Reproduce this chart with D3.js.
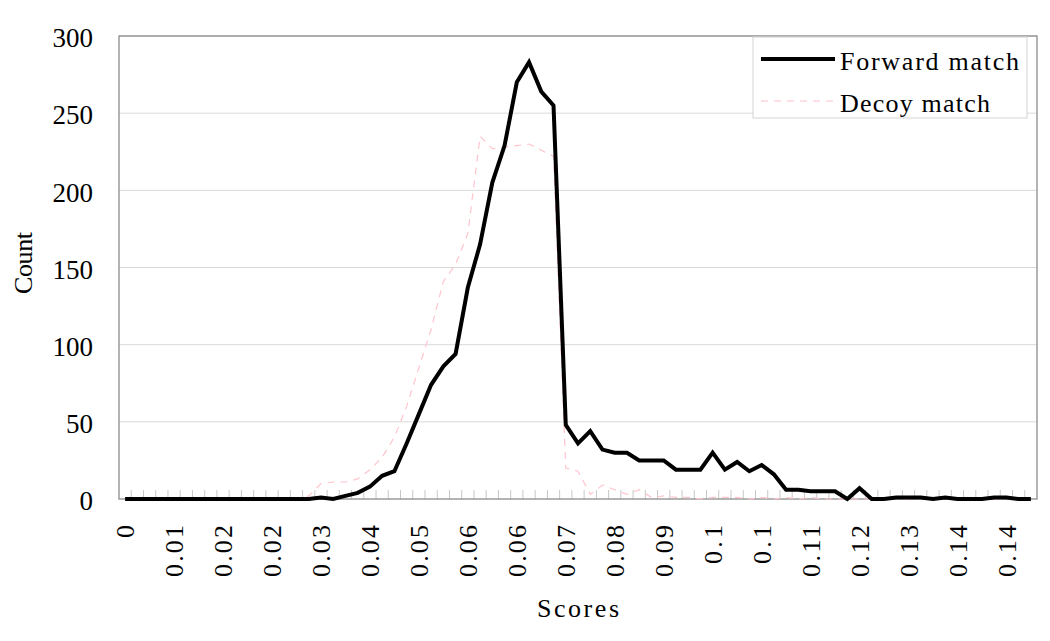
<!DOCTYPE html>
<html lang="en">
<head>
<meta charset="utf-8">
<title>Forward vs decoy match scores</title>
<script src="https://cdnjs.cloudflare.com/ajax/libs/d3/7.8.5/d3.min.js"></script>
<style>
body { margin: 0; background: #fff; }
text { font-family: "Liberation Serif", "DejaVu Serif", serif; fill: #000; }
.grid line { stroke: #d9d9d9; stroke-width: 1px; }
.frame { fill: none; stroke: #8c8c8c; stroke-width: 1.3px; }
.minor line { stroke: #c8c8c8; stroke-width: 1px; }
.forward { fill: none; stroke: #000; stroke-width: 4px; stroke-linejoin: miter; }
.decoy { fill: none; stroke: #ffc4cc; stroke-width: 1.2px; stroke-dasharray: 7,6; }
</style>
</head>
<body>
<script>

// score bins (x categories)
var scores = [
  0.000, 0.002, 0.004, 0.006, 0.008, 0.010, 0.012, 0.014, 0.016, 0.018,
  0.020, 0.022, 0.024, 0.026, 0.028, 0.030, 0.032, 0.034, 0.036, 0.038,
  0.040, 0.042, 0.044, 0.046, 0.048, 0.050, 0.052, 0.054, 0.056, 0.058,
  0.060, 0.062, 0.064, 0.066, 0.068, 0.070, 0.072, 0.074, 0.076, 0.078,
  0.080, 0.082, 0.084, 0.086, 0.088, 0.090, 0.092, 0.094, 0.096, 0.098,
  0.100, 0.102, 0.104, 0.106, 0.108, 0.110, 0.112, 0.114, 0.116, 0.118,
  0.120, 0.122, 0.124, 0.126, 0.128, 0.130, 0.132, 0.134, 0.136, 0.138,
  0.140, 0.142, 0.144, 0.146, 0.148
];

var forward = [
  0, 0, 0, 0, 0, 0, 0, 0, 0, 0,
  0, 0, 0, 0, 0, 0, 1, 0, 2, 4,
  8, 15, 18, 36, 55, 74, 86, 94, 137, 165,
  205, 229, 270, 283, 264, 255, 48, 36, 44, 32,
  30, 30, 25, 25, 25, 19, 19, 19, 30, 19,
  24, 18, 22, 16, 6, 6, 5, 5, 5, 0,
  7, 0, 0, 1, 1, 1, 0, 1, 0, 0,
  0, 1, 1, 0, 0
];

var decoy = [
  0, 0, 0, 0, 0, 0, 0, 0, 0, 0,
  0, 0, 0, 0, 0, 2, 10, 11, 11, 13,
  19, 27, 40, 60, 85, 110, 141, 152, 172, 235,
  227, 228, 229, 230, 226, 222, 20, 18, 3, 9,
  6, 3, 6, 1, 2, 1, 1, 0, 1, 1,
  1, 0, 1, 0, 1, 0, 1, 0, 0, 0,
  0, 0, 0, 0, 0, 0, 0, 0, 0, 0,
  0, 0, 0, 0, 0
];

// every 4th bin is labelled, rounded to 2 decimals as in the original sheet
var xTickLabels = ["0", "0.01", "0.02", "0.02", "0.03", "0.04", "0.05", "0.06", "0.06", "0.07",
  "0.08", "0.09", "0.1", "0.1", "0.11", "0.12", "0.13", "0.14", "0.14"];
var yTicks = [0, 50, 100, 150, 200, 250, 300];
var seriesNames = ["Forward match", "Decoy match"];

var W = 1050, H = 641;
var plot = { left: 119, right: 1037, top: 36, bottom: 499 };

var svg = d3.select("body").append("svg")
    .attr("width", W)
    .attr("height", H);

var x = d3.scaleBand()
    .domain(d3.range(scores.length))
    .range([plot.left, plot.right])
    .padding(0);

var y = d3.scaleLinear()
    .domain([0, 300])
    .range([plot.bottom, plot.top]);

var cx = function(i) { return x(i) + x.bandwidth() / 2; };

// gridlines
svg.append("g")
    .attr("class", "grid")
  .selectAll("line")
  .data(yTicks.slice(1))
  .enter().append("line")
    .attr("x1", plot.left)
    .attr("x2", plot.right)
    .attr("y1", function(d) { return y(d); })
    .attr("y2", function(d) { return y(d); });

// small inward ticks at each bin boundary
svg.append("g")
    .attr("class", "minor")
  .selectAll("line")
  .data(d3.range(1, scores.length))
  .enter().append("line")
    .attr("x1", function(i) { return x(i); })
    .attr("x2", function(i) { return x(i); })
    .attr("y1", plot.bottom)
    .attr("y2", plot.bottom - 9);

svg.append("rect")
    .attr("class", "frame")
    .attr("x", plot.left)
    .attr("y", plot.top)
    .attr("width", plot.right - plot.left)
    .attr("height", plot.bottom - plot.top);

// y axis labels
var yAxis = svg.append("g")
    .attr("transform", "translate(" + plot.left + ",0)")
    .call(d3.axisLeft(y).tickValues(yTicks).tickSize(0).tickPadding(26));
yAxis.select(".domain").remove();
yAxis.selectAll("text")
    .attr("dy", "0.4em")
    .style("font-size", "27px")
    .style("font-family", null);

// x axis labels (rotated)
var xAxis = svg.append("g")
    .attr("transform", "translate(0," + plot.bottom + ")")
    .call(d3.axisBottom(x)
      .tickValues(d3.range(0, scores.length, 4))
      .tickFormat(function(i) { return xTickLabels[i / 4]; })
      .tickSize(0));
xAxis.select(".domain").remove();
xAxis.selectAll("text")
    .attr("transform", "rotate(-90)")
    .attr("x", -26)
    .attr("y", 0)
    .attr("dy", "0.36em")
    .attr("textLength", function() { return this.textContent.length * 13; })
    .attr("lengthAdjust", "spacing")
    .style("text-anchor", "end")
    .style("font-size", "26px")
    .style("font-family", null);

// series
var line = d3.line()
    .x(function(d, i) { return cx(i); })
    .y(function(d) { return y(d); });

svg.append("path")
    .datum(decoy)
    .attr("class", "decoy")
    .attr("d", line);

svg.append("path")
    .datum(forward)
    .attr("class", "forward")
    .attr("d", line);

// axis titles
svg.append("text")
    .attr("x", (plot.left + plot.right) / 2)
    .attr("y", 617)
    .attr("textLength", 82)
    .attr("lengthAdjust", "spacing")
    .style("text-anchor", "middle")
    .style("font-size", "26px")
    .text("Scores");

svg.append("text")
    .attr("transform", "translate(23,263) rotate(-90)")
    .attr("dy", "0.35em")
    .attr("textLength", 62)
    .attr("lengthAdjust", "spacing")
    .style("text-anchor", "middle")
    .style("font-size", "26px")
    .text("Count");

// legend
var legend = svg.append("g")
    .attr("transform", "translate(753,37)");

legend.append("rect")
    .attr("width", 274)
    .attr("height", 81)
    .attr("fill", "#fff")
    .attr("stroke", "#d4d4d4");

var legendLen = [179, 150];
var legendCls = ["forward", "decoy"];
seriesNames.forEach(function(name, k) {
  var ly = 22 + k * 42;
  legend.append("line")
      .attr("class", legendCls[k])
      .attr("x1", 8)
      .attr("x2", 82)
      .attr("y1", ly)
      .attr("y2", ly);
  legend.append("text")
      .attr("x", 87)
      .attr("y", ly + 11)
      .attr("textLength", legendLen[k])
      .attr("lengthAdjust", "spacing")
      .style("font-size", "26px")
      .text(name);
});

</script>
</body>
</html>
